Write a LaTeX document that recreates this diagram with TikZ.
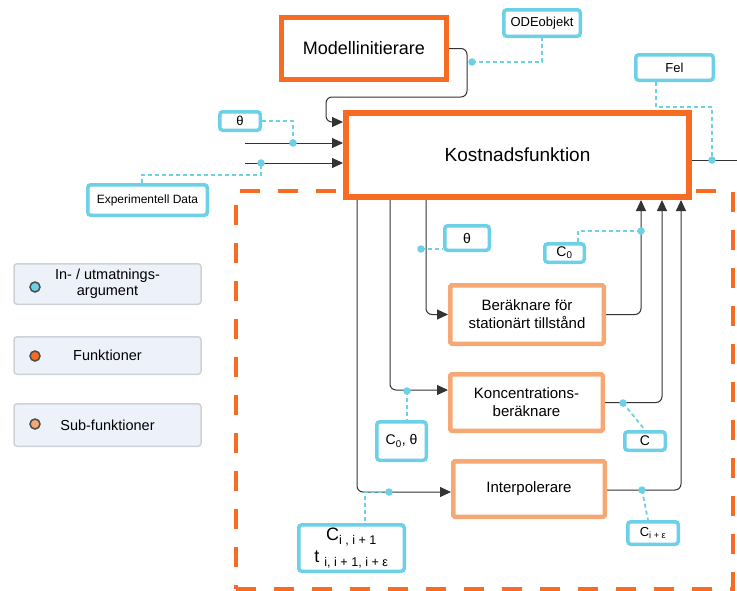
\documentclass[tikz,border=0pt]{standalone}
\usepackage{fontspec}
\setmainfont{Liberation Sans}
\usetikzlibrary{arrows.meta}
\pgfdeclarelayer{background}
\pgfsetlayers{background,main}
\definecolor{funcc}{HTML}{F76B22}
\definecolor{subc}{HTML}{F5A874}
\definecolor{argc}{HTML}{6CD0E6}
\definecolor{linec}{HTML}{333333}
\definecolor{legfill}{HTML}{EDF2FA}
\definecolor{legdraw}{HTML}{CDD2D9}
\tikzstyle{func}=[draw=funcc, line width=5pt, fill=white
%,rounded corners=1.5pt
,inner sep=0pt
]
\tikzstyle{subfunc}=[draw=subc, line width=4.5pt, fill=white, rounded corners=1.5pt, inner sep=0pt, align=center, font=\fontsize{15}{18}\selectfont]
\tikzstyle{arg}=[draw=argc, line width=3.5pt, fill=white, rounded corners=3pt, inner sep=0pt, align=center, font=\fontsize{13}{15}\selectfont]
\tikzstyle{conn} = [draw=linec, line width=1pt, rounded corners=6pt, -{Triangle[length=11pt,width=10pt]}]
\tikzstyle{argline} = [draw=argc, line width=1.8pt, dash pattern=on 4pt off 3pt]
\tikzstyle{argdot}=[circle, fill=argc, minimum size=7.5pt, inner sep=0pt]
\tikzstyle{legend}=[draw=legdraw, line width=1.5pt, fill=legfill, rounded corners=3pt, minimum width=187pt, align=center, font=\fontsize{14.5}{16}\selectfont]
\tikzstyle{legdot}=[circle, draw=black!70, line width=1.5pt, minimum size=10pt, inner sep=0pt]

\begin{document}
\begin{tikzpicture}[x=1pt,y=-1pt]
    \useasboundingbox (0,0) rectangle (737,590);
    % Functions and sub-functions
    \node[func, line width=6pt, minimum width=343pt, minimum height=84pt, font=\fontsize{19}{22}\selectfont] (kost) at (517.5,155) {Kostnadsfunktion};
    \node[func, minimum width=165pt, minimum height=62pt, font=\fontsize{18}{21}\selectfont] (mod) at (364,48.5) {Modellinitierare};
    \node[subfunc, minimum width=153.5pt, minimum height=58.5pt] (ber) at (527,314.5) {Beräknare för\\stationärt tillstånd};
    \node[subfunc, minimum width=152.5pt, minimum height=56.5pt] (kon) at (526.5,402.5) {Koncentrations-\\beräknare};
    \node[subfunc, minimum width=151.5pt, minimum height=55.5pt] (int) at (529,489) {Interpolerare};

    % In- and output arguments
    \foreach \pos/\name/\w/\h/\txt in {{(542,23)/ode/76.5/26.5/ODEobjekt}, {(674.5,67.5)/fel/77.5/25.5/Fel}, {(240,121)/th1/40.5/18.5/θ}, {(147.5,200)/exp/119.5/30.5/{\fontsize{12}{14}\selectfont Experimentell Data}}, {(467,238)/th2/44.5/24.5/{\fontsize{14}{16}\selectfont θ}}, {(564.5,253)/c0/39.5/18.5/{\fontsize{14}{16}\selectfont C\textsubscript{0}}}, {(401.5,441)/c0th/49.5/38.5/{\fontsize{14}{16}\selectfont C\textsubscript{0}, θ}}, {(645,441)/cc/40.5/18.5/{\fontsize{14}{16}\selectfont C}}, {(653,533)/ceps/50.5/22.5/{C\textsubscript{i + ε}}}}
        \node[arg, minimum width=\w pt, minimum height=\h pt] (\name) at \pos {\txt};
    \node[arg, minimum width=105.5pt, minimum height=46.5pt, font=\fontsize{18}{22}\selectfont] (ci) at (351.5,548) {C\textsubscript{i , i + 1}\\t \textsubscript{i, i + 1, i + ε}};

    % Dots on the connectors
    \foreach \pos/\name in {{(293,143)/d1}, {(261,163)/d2}, {(472,62)/d3}, {(712,160)/d4}, {(421,249)/d5}, {(641,231)/d6}, {(407,391)/d7}, {(623,403)/d8}, {(389,492)/d9}, {(642,490)/d10}}
        \node[argdot] (\name) at \pos {};

    \coordinate (inA) at (245,143);
    \coordinate (inB) at (245,163);
    \coordinate (outR) at (748,160);

    \begin{pgfonlayer}{background}
        \node[draw=funcc, line width=3.5pt, dash pattern=on 20pt off 18pt, minimum width=497pt, minimum height=398pt, inner sep=0pt] (subarea) at (484.5,390) {};
        % Connect functions with arrows
        \draw[conn] (mod.east) -| (467,97) -| (326,122) -- (kost.west |- 0,122);
        \foreach \src in {inA, inB}
            \draw[conn] (\src) -- (kost.west |- \src);
        \draw[conn] (kost.east |- outR) -- (outR);
        \draw[conn] (kost.south -| 426,0) |- (ber.west);
        \draw[conn] (kost.south -| 390,0) |- (kon.west |- 0,390);
        \draw[conn] (kost.south -| 357,0) |- (int.west |- 0,492);
        \draw[conn] (ber.east) -| (kost.south -| 641,0);
        \draw[conn] (kon.east) -| (kost.south -| 662,0);
        \draw[conn] (int.east |- 0,490) -| (kost.south -| 681,0);
        % Argument links
        \draw[argline] (th1.east) -| (d1.center);
        \draw[argline] (exp.north -| 142,0) |- (d2.center |- 0,175) -- (d2.center);
        \draw[argline] (d3.center) -| (ode.south);
        \draw[argline] (fel.south -| 656,0) |- (d4.center |- 0,107) -- (d4.center);
        \draw[argline] (d5.center) -- (th2.west |- d5);
        \draw[argline] (c0.north -| 578,0) |- (d6.center);
        \draw[argline] (d7.center) -- (c0th.north -| d7);
        \draw[argline] (d8.center) -- (cc.north);
        \draw[argline] (d9.center) -| (ci.north -| 365,0);
        \draw[argline] (d10.center) -- (ceps.north -| 648,0);
    \end{pgfonlayer}

    % Legend
    \node[legend, minimum height=40.5pt] (lg1) at (107.5,284) {In- / utmatnings-\\argument};
    \node[legend, minimum height=37.5pt] (lg2) at (107.5,355.5) {Funktioner};
    \node[legend, minimum height=42.5pt] (lg3) at (107.5,425) {Sub-funktioner};
    \node[legdot, fill=argc] (ld1) at (35,287) {};
    \node[legdot, fill=funcc] (ld2) at (35,356) {};
    \node[legdot, fill=subc] (ld3) at (35,424) {};
\end{tikzpicture}
\end{document}
